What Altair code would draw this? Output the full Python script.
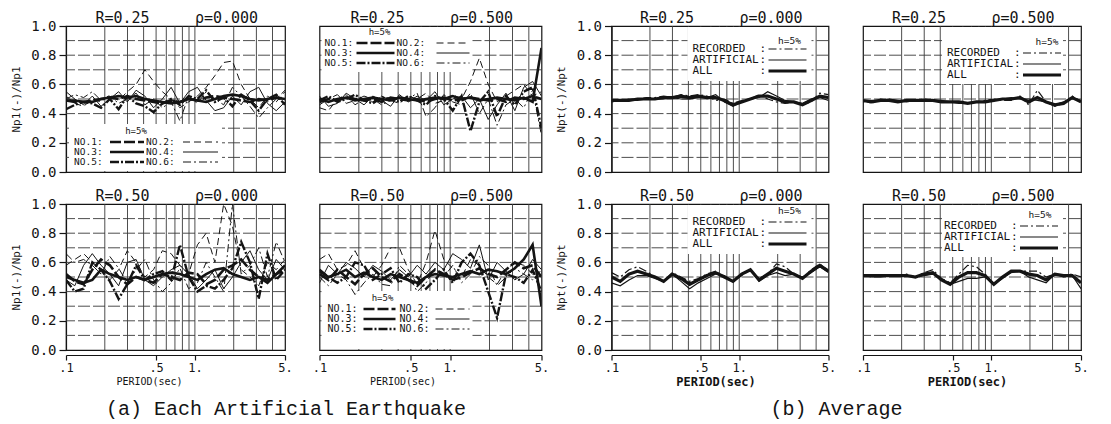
import altair as alt
import pandas as pd

# ---------------- data ----------------
PERIODS = [0.1, 0.117, 0.137, 0.16, 0.187, 0.219, 0.256, 0.299, 0.35, 0.409,
           0.478, 0.559, 0.654, 0.765, 0.894, 1.046, 1.223, 1.43, 1.672, 1.955,
           2.286, 2.673, 3.126, 3.655, 4.275, 5.0]

EQ_NAMES = ["NO.1", "NO.2", "NO.3", "NO.4", "NO.5", "NO.6"]
AVG_NAMES = ["RECORDED", "ARTIFICIAL", "ALL"]

EQ_R025_P000 = {
    "NO.1": [0.49, 0.48, 0.48, 0.49, 0.50, 0.51, 0.50, 0.52, 0.50, 0.49, 0.48, 0.47, 0.49,
             0.48, 0.50, 0.49, 0.51, 0.52, 0.51, 0.50, 0.49, 0.48, 0.50, 0.49, 0.51, 0.50],
    "NO.2": [0.52, 0.47, 0.45, 0.50, 0.48, 0.53, 0.49, 0.55, 0.60, 0.70, 0.62, 0.55, 0.50,
             0.44, 0.48, 0.52, 0.58, 0.66, 0.75, 0.76, 0.60, 0.50, 0.44, 0.52, 0.48, 0.55],
    "NO.3": [0.49, 0.49, 0.48, 0.48, 0.50, 0.51, 0.52, 0.51, 0.52, 0.50, 0.49, 0.48, 0.47,
             0.48, 0.50, 0.49, 0.48, 0.50, 0.52, 0.53, 0.52, 0.50, 0.49, 0.50, 0.51, 0.50],
    "NO.4": [0.55, 0.50, 0.46, 0.52, 0.45, 0.50, 0.55, 0.48, 0.56, 0.52, 0.44, 0.50, 0.58,
             0.47, 0.55, 0.58, 0.49, 0.42, 0.44, 0.52, 0.46, 0.55, 0.58, 0.47, 0.42, 0.48],
    "NO.5": [0.43, 0.46, 0.48, 0.47, 0.44, 0.50, 0.43, 0.52, 0.47, 0.45, 0.41, 0.47, 0.50,
             0.46, 0.52, 0.50, 0.56, 0.48, 0.51, 0.45, 0.53, 0.49, 0.42, 0.50, 0.53, 0.46],
    "NO.6": [0.50, 0.53, 0.51, 0.55, 0.49, 0.52, 0.47, 0.50, 0.54, 0.46, 0.50, 0.44, 0.48,
             0.35, 0.52, 0.47, 0.55, 0.50, 0.46, 0.58, 0.52, 0.45, 0.37, 0.44, 0.50, 0.56],
}
EQ_R025_P500 = {
    "NO.1": [0.48, 0.50, 0.49, 0.51, 0.50, 0.49, 0.50, 0.48, 0.51, 0.50, 0.49, 0.50, 0.48,
             0.50, 0.51, 0.49, 0.50, 0.51, 0.50, 0.49, 0.50, 0.48, 0.51, 0.50, 0.52, 0.50],
    "NO.2": [0.44, 0.42, 0.50, 0.53, 0.46, 0.50, 0.48, 0.52, 0.49, 0.47, 0.52, 0.50, 0.54,
             0.47, 0.49, 0.53, 0.50, 0.62, 0.78, 0.60, 0.48, 0.52, 0.56, 0.60, 0.52, 0.55],
    "NO.3": [0.50, 0.48, 0.50, 0.51, 0.49, 0.50, 0.51, 0.50, 0.49, 0.51, 0.50, 0.49, 0.50,
             0.51, 0.50, 0.52, 0.50, 0.51, 0.49, 0.50, 0.51, 0.50, 0.49, 0.51, 0.48, 0.85],
    "NO.4": [0.52, 0.45, 0.47, 0.54, 0.50, 0.46, 0.52, 0.49, 0.45, 0.53, 0.48, 0.52, 0.49,
             0.55, 0.46, 0.50, 0.52, 0.44, 0.50, 0.36, 0.46, 0.54, 0.42, 0.58, 0.62, 0.52],
    "NO.5": [0.49, 0.52, 0.48, 0.50, 0.53, 0.49, 0.47, 0.51, 0.50, 0.48, 0.52, 0.49, 0.46,
             0.52, 0.50, 0.42, 0.52, 0.28, 0.48, 0.55, 0.38, 0.52, 0.46, 0.55, 0.58, 0.30],
    "NO.6": [0.46, 0.50, 0.53, 0.47, 0.49, 0.52, 0.50, 0.46, 0.49, 0.52, 0.50, 0.54, 0.38,
             0.44, 0.53, 0.48, 0.46, 0.54, 0.40, 0.50, 0.32, 0.46, 0.50, 0.44, 0.56, 0.25],
}
EQ_R050_P000 = {
    "NO.1": [0.52, 0.47, 0.45, 0.55, 0.62, 0.58, 0.50, 0.45, 0.50, 0.48, 0.46, 0.52, 0.50,
             0.48, 0.53, 0.52, 0.45, 0.48, 0.55, 0.58, 0.62, 0.55, 0.50, 0.48, 0.52, 0.55],
    "NO.2": [0.58, 0.62, 0.66, 0.60, 0.55, 0.48, 0.55, 0.68, 0.60, 0.50, 0.55, 0.68, 0.66,
             0.58, 0.52, 0.72, 0.80, 0.60, 1.00, 0.85, 0.55, 0.50, 0.44, 0.60, 0.55, 0.62],
    "NO.3": [0.50, 0.48, 0.46, 0.48, 0.55, 0.52, 0.50, 0.48, 0.50, 0.48, 0.50, 0.52, 0.53,
             0.52, 0.50, 0.48, 0.52, 0.55, 0.56, 0.52, 0.50, 0.48, 0.50, 0.46, 0.52, 0.58],
    "NO.4": [0.48, 0.44, 0.58, 0.66, 0.58, 0.52, 0.44, 0.60, 0.62, 0.48, 0.44, 0.50, 0.55,
             0.58, 0.52, 0.42, 0.48, 0.55, 0.42, 0.50, 0.60, 0.68, 0.55, 0.48, 0.62, 0.55],
    "NO.5": [0.48, 0.40, 0.42, 0.60, 0.55, 0.47, 0.35, 0.45, 0.58, 0.48, 0.52, 0.54, 0.48,
             0.72, 0.50, 0.40, 0.44, 0.42, 0.48, 0.56, 0.74, 0.60, 0.35, 0.66, 0.48, 0.55],
    "NO.6": [0.66, 0.60, 0.62, 0.58, 0.52, 0.64, 0.56, 0.46, 0.55, 0.62, 0.48, 0.40, 0.46,
             0.56, 0.42, 0.46, 0.60, 0.50, 0.40, 1.00, 0.52, 0.58, 0.70, 0.50, 0.74, 0.60],
}
EQ_R050_P500 = {
    "NO.1": [0.52, 0.48, 0.55, 0.50, 0.45, 0.52, 0.56, 0.50, 0.47, 0.52, 0.48, 0.44, 0.50,
             0.55, 0.52, 0.48, 0.50, 0.53, 0.56, 0.52, 0.50, 0.55, 0.60, 0.56, 0.58, 0.50],
    "NO.2": [0.62, 0.66, 0.55, 0.58, 0.68, 0.56, 0.50, 0.58, 0.70, 0.70, 0.55, 0.45, 0.60,
             0.82, 0.62, 0.56, 0.50, 0.62, 0.58, 0.50, 0.45, 0.55, 0.60, 0.58, 0.52, 0.50],
    "NO.3": [0.54, 0.50, 0.52, 0.55, 0.50, 0.53, 0.50, 0.48, 0.52, 0.50, 0.48, 0.46, 0.50,
             0.52, 0.51, 0.50, 0.52, 0.54, 0.52, 0.55, 0.54, 0.52, 0.56, 0.62, 0.72, 0.30],
    "NO.4": [0.46, 0.58, 0.52, 0.60, 0.56, 0.50, 0.58, 0.54, 0.48, 0.55, 0.50, 0.58, 0.52,
             0.60, 0.55, 0.66, 0.62, 0.56, 0.72, 0.48, 0.60, 0.54, 0.48, 0.52, 0.62, 0.55],
    "NO.5": [0.55, 0.50, 0.46, 0.50, 0.60, 0.58, 0.48, 0.52, 0.56, 0.46, 0.52, 0.50, 0.42,
             0.48, 0.55, 0.46, 0.60, 0.66, 0.58, 0.40, 0.22, 0.52, 0.50, 0.46, 0.55, 0.40],
    "NO.6": [0.50, 0.44, 0.52, 0.48, 0.38, 0.46, 0.52, 0.45, 0.44, 0.58, 0.52, 0.40, 0.46,
             0.56, 0.50, 0.58, 0.46, 0.52, 0.64, 0.58, 0.44, 0.50, 0.56, 0.52, 0.48, 0.55],
}
AVG_R025_P000 = {
    "RECORDED":   [0.49, 0.49, 0.50, 0.50, 0.51, 0.51, 0.52, 0.51, 0.53, 0.52, 0.53, 0.52, 0.49,
                   0.50, 0.47, 0.49, 0.50, 0.53, 0.50, 0.48, 0.47, 0.48, 0.46, 0.48, 0.54, 0.53],
    "ARTIFICIAL": [0.48, 0.49, 0.49, 0.49, 0.50, 0.50, 0.50, 0.51, 0.50, 0.50, 0.51, 0.51, 0.53,
                   0.48, 0.45, 0.48, 0.50, 0.51, 0.55, 0.52, 0.49, 0.48, 0.47, 0.50, 0.51, 0.49],
    "ALL":        [0.49, 0.49, 0.49, 0.50, 0.50, 0.50, 0.51, 0.51, 0.52, 0.51, 0.52, 0.51, 0.51,
                   0.49, 0.46, 0.48, 0.50, 0.52, 0.52, 0.50, 0.48, 0.48, 0.46, 0.49, 0.52, 0.51],
}
AVG_R025_P500 = {
    "RECORDED":   [0.49, 0.47, 0.50, 0.49, 0.48, 0.49, 0.49, 0.50, 0.49, 0.48, 0.48, 0.48, 0.47,
                   0.48, 0.49, 0.50, 0.49, 0.49, 0.52, 0.46, 0.56, 0.48, 0.45, 0.47, 0.52, 0.48],
    "ARTIFICIAL": [0.48, 0.49, 0.49, 0.50, 0.49, 0.48, 0.49, 0.49, 0.49, 0.49, 0.48, 0.47, 0.47,
                   0.48, 0.48, 0.49, 0.50, 0.51, 0.50, 0.50, 0.49, 0.48, 0.46, 0.48, 0.51, 0.49],
    "ALL":        [0.49, 0.48, 0.49, 0.49, 0.48, 0.49, 0.49, 0.49, 0.49, 0.48, 0.48, 0.48, 0.47,
                   0.48, 0.48, 0.49, 0.50, 0.50, 0.51, 0.48, 0.51, 0.48, 0.46, 0.47, 0.51, 0.48],
}
AVG_R050_P000 = {
    "RECORDED":   [0.53, 0.50, 0.55, 0.57, 0.54, 0.50, 0.47, 0.53, 0.50, 0.47, 0.49, 0.52, 0.54,
                   0.50, 0.47, 0.51, 0.55, 0.49, 0.52, 0.59, 0.57, 0.52, 0.49, 0.55, 0.59, 0.54],
    "ARTIFICIAL": [0.46, 0.44, 0.48, 0.51, 0.51, 0.49, 0.47, 0.52, 0.47, 0.42, 0.46, 0.49, 0.52,
                   0.51, 0.47, 0.52, 0.55, 0.47, 0.51, 0.53, 0.51, 0.52, 0.50, 0.53, 0.57, 0.53],
    "ALL":        [0.50, 0.47, 0.52, 0.54, 0.52, 0.50, 0.47, 0.52, 0.49, 0.45, 0.48, 0.51, 0.53,
                   0.50, 0.47, 0.52, 0.55, 0.48, 0.52, 0.56, 0.54, 0.52, 0.49, 0.54, 0.58, 0.54],
}
AVG_R050_P500 = {
    "RECORDED":   [0.51, 0.51, 0.51, 0.51, 0.51, 0.52, 0.50, 0.53, 0.55, 0.49, 0.46, 0.52, 0.58,
                   0.57, 0.52, 0.45, 0.50, 0.54, 0.54, 0.54, 0.54, 0.50, 0.52, 0.51, 0.52, 0.50],
    "ARTIFICIAL": [0.51, 0.50, 0.50, 0.51, 0.51, 0.51, 0.50, 0.51, 0.52, 0.48, 0.45, 0.47, 0.49,
                   0.49, 0.50, 0.45, 0.49, 0.53, 0.54, 0.50, 0.48, 0.46, 0.52, 0.50, 0.51, 0.42],
    "ALL":        [0.51, 0.51, 0.51, 0.51, 0.51, 0.51, 0.50, 0.52, 0.53, 0.48, 0.45, 0.50, 0.53,
                   0.53, 0.51, 0.45, 0.50, 0.54, 0.54, 0.52, 0.51, 0.48, 0.52, 0.51, 0.51, 0.46],
}

X_TICKS = [0.1, 0.5, 1.0, 5.0]
X_TICK_LABELS = [".1", ".5", "1.", "5."]
Y_TICKS = [0.0, 0.2, 0.4, 0.6, 0.8, 1.0]
GRID_X = [0.2, 0.3, 0.4, 0.5, 0.6, 0.7, 0.8, 0.9, 1.0, 2.0, 3.0, 4.0]
GRID_Y = [0.1, 0.2, 0.3, 0.4, 0.5, 0.6, 0.7, 0.8, 0.9]

# ---------------- styling ----------------
MONO = "DejaVu Sans Mono"
CAPTION_FONT = "Liberation Mono"
INK = "#141414"
GRID_INK = "#3a3a3a"
STYLE = {
    "NO.1": {"strokeWidth": 2.6, "strokeDash": [11, 3]},
    "NO.2": {"strokeWidth": 1.0, "strokeDash": [7, 4]},
    "NO.3": {"strokeWidth": 2.6},
    "NO.4": {"strokeWidth": 1.0},
    "NO.5": {"strokeWidth": 2.4, "strokeDash": [9, 2, 2, 2]},
    "NO.6": {"strokeWidth": 1.0, "strokeDash": [8, 3, 2, 3]},
    "RECORDED": {"strokeWidth": 1.2, "strokeDash": [8, 3, 2, 3]},
    "ARTIFICIAL": {"strokeWidth": 1.2},
    "ALL": {"strokeWidth": 3.2},
}
DUMMY = alt.Data(values=[{"k": 0}])

x_label_expr = "''"
for v, l in zip(reversed(X_TICKS), reversed(X_TICK_LABELS)):
    x_label_expr = f"abs(datum.value - {v}) < 1e-6 ? '{l}' : ({x_label_expr})"

# legend layouts (pixel offsets inside each panel)
LEG_A1 = dict(h=(70, 105), rows=[116, 126, 136], tx1=8, s1=(44, 78), tx2=80, s2=(117, 152), fs=9.5, box=(3, 156, 98, 145))
LEG_A2 = dict(h=(60, 6), rows=[17, 27, 37], tx1=5, s1=(37, 75), tx2=77, s2=(117, 150), fs=9.5, box=(2, 153, 1, 46))
LEG_A4 = dict(h=(63, 94), rows=[105, 115, 125], tx1=8, s1=(44, 76), tx2=80, s2=(116, 150), fs=10, box=(2, 153, 87, 145))
LEG_B1 = dict(h=(178, 15), rows=[23, 34, 45], tx=81, box=(76, 200, 1, 55))
LEG_B2 = dict(h=(184, 16), rows=[27, 38, 49], tx=84, box=(79, 200, 1, 58))
LEG_B3 = dict(h=(178, 7), rows=[18, 29, 40], tx=81, box=(76, 200, 1, 50))
LEG_B4 = dict(h=(177, 11), rows=[22, 33, 44], tx=81, box=(79, 200, 1, 53))
AVG_FS = 11


def text_layer(txt, x, y, size, align="left", font=MONO, weight="normal"):
    return alt.Chart(DUMMY).mark_text(
        text=txt, align=align, baseline="middle", font=font, fontSize=size,
        fontWeight=weight, color=INK
    ).encode(x=alt.value(x), y=alt.value(y))


def sample_layer(name, x1, x2, y):
    return alt.Chart(DUMMY).mark_rule(color=INK, **STYLE[name]).encode(
        x=alt.value(x1), x2=alt.value(x2), y=alt.value(y))


def box_layer(x1, x2, y1, y2):
    return alt.Chart(DUMMY).mark_rect(fill="white").encode(
        x=alt.value(x1), x2=alt.value(x2), y=alt.value(y1), y2=alt.value(y2))


def panel(series, names, w, h, r_txt, p_txt, y_title=None, x_title=None,
          x_title_x=83, x_title_size=10, x_title_weight="normal",
          legend=None, caption=None):
    xs = alt.Scale(type="log", domain=[0.1, 5.0], nice=False)
    ys = alt.Scale(domain=[0.0, 1.0], nice=False, zero=False)
    if x_title is not None:
        xax = alt.Axis(values=X_TICKS, labelExpr=x_label_expr, grid=False, offset=5,
                       domain=True, domainColor=INK, domainWidth=1.2, ticks=True,
                       tickColor=INK, tickSize=5, tickWidth=1.2, labelFont=MONO,
                       labelFontSize=12, labelColor=INK, labelPadding=2, labelFlush=False,
                       labelOverlap=False, title=x_title, titleFont=MONO,
                       titleFontSize=x_title_size, titleFontWeight=x_title_weight,
                       titleColor=INK, titleX=x_title_x, titleY=26, titleAlign="center",
                       titleBaseline="middle")
    else:
        xax = None
    if y_title is not None:
        yax = alt.Axis(values=Y_TICKS, format=".1f", grid=False, domain=True,
                       domainColor=INK, domainWidth=1.2, ticks=True, tickColor=INK,
                       tickSize=7, tickWidth=1.2, labelFont=MONO, labelFontSize=14,
                       labelColor=INK, labelPadding=3, labelFlush=False,
                       labelOverlap=False, title=y_title, titleFont=MONO,
                       titleFontSize=11, titleFontWeight="normal", titleColor=INK,
                       titleX=-50, titleY=h / 2, titleAngle=270, titleAlign="center",
                       titleBaseline="middle")
    else:
        yax = None

    layers = []
    layers.append(alt.Chart(alt.Data(values=[{"v": v} for v in GRID_X])).mark_rule(
        color=GRID_INK, strokeWidth=0.9).encode(
        x=alt.X("v:Q", scale=xs, axis=xax)))
    layers.append(alt.Chart(alt.Data(values=[{"v": v} for v in GRID_Y])).mark_rule(
        color=GRID_INK, strokeWidth=0.9, strokeDash=[12, 3]).encode(
        y=alt.Y("v:Q", scale=ys, axis=yax)))
    if legend is not None:
        b = legend[1]["box"]
        layers.append(box_layer(*b))
    for n in names:
        df = pd.DataFrame({"period": PERIODS, "value": series[n]})
        layers.append(alt.Chart(df).mark_line(color=INK, clip=True, strokeJoin="miter",
                                              **STYLE[n]).encode(
            x=alt.X("period:Q", scale=xs, axis=xax),
            y=alt.Y("value:Q", scale=ys, axis=yax)))
    if legend is not None:
        kind, L = legend
        if kind == "eq":
            layers.append(text_layer("h=5%", L["h"][0], L["h"][1], 9, align="center"))
            for i, r in enumerate(L["rows"]):
                n1, n2 = EQ_NAMES[2 * i], EQ_NAMES[2 * i + 1]
                layers.append(text_layer(n1 + ":", L["tx1"], r, L["fs"]))
                layers.append(sample_layer(n1, L["s1"][0], L["s1"][1], r))
                layers.append(text_layer(n2 + ":", L["tx2"], r, L["fs"]))
                layers.append(sample_layer(n2, L["s2"][0], L["s2"][1], r))
        else:
            layers.append(text_layer("h=5%", L["h"][0], L["h"][1], 9.5, align="center"))
            for n, r in zip(AVG_NAMES, L["rows"]):
                layers.append(text_layer(n, L["tx"], r, AVG_FS))
                layers.append(text_layer(":", L["tx"] + 67, r, AVG_FS))
                layers.append(sample_layer(n, L["tx"] + 76, L["tx"] + 114, r))
    layers.append(text_layer(r_txt, w / 2 - 53, -8, 15, align="center"))
    layers.append(text_layer(p_txt, w / 2 + 51, -8, 15, align="center"))
    if caption is not None:
        layers.append(text_layer(caption[0], caption[1], 205, 20, align="center",
                                 font=CAPTION_FONT))
    return alt.layer(*layers).properties(width=w, height=h)


def spacer(h):
    return alt.Chart(DUMMY).mark_point(opacity=0).encode(
        x=alt.value(0), y=alt.value(0)
    ).properties(width=1, height=h,
                 view=alt.ViewBackground(stroke="transparent", fill="transparent"))


H = 146
A1 = panel(EQ_R025_P000, EQ_NAMES, 219, H, "R=0.25", "ρ=0.000", y_title="Np1(-)/Np1",
           legend=("eq", LEG_A1))
A2 = panel(EQ_R025_P500, EQ_NAMES, 222, H, "R=0.25", "ρ=0.500", legend=("eq", LEG_A2))
A3 = panel(EQ_R050_P000, EQ_NAMES, 219, H, "R=0.50", "ρ=0.000", y_title="Np1(-)/Np1",
           x_title="PERIOD(sec)", caption=("(a) Each Artificial Earthquake", 220))
A4 = panel(EQ_R050_P500, EQ_NAMES, 222, H, "R=0.50", "ρ=0.500", x_title="PERIOD(sec)",
           legend=("eq", LEG_A4))
B1 = panel(AVG_R025_P000, AVG_NAMES, 217, H, "R=0.25", "ρ=0.000", y_title="Npt(-)/Npt",
           legend=("avg", LEG_B1))
B2 = panel(AVG_R025_P500, AVG_NAMES, 218, H, "R=0.25", "ρ=0.500", legend=("avg", LEG_B2))
B3 = panel(AVG_R050_P000, AVG_NAMES, 217, H, "R=0.50", "ρ=0.000", y_title="Npt(-)/Npt",
           x_title="PERIOD(sec)", x_title_x=104, x_title_size=12, x_title_weight="bold",
           legend=("avg", LEG_B3), caption=("(b) Average", 225))
B4 = panel(AVG_R050_P500, AVG_NAMES, 218, H, "R=0.50", "ρ=0.500", x_title="PERIOD(sec)",
           x_title_x=104, x_title_size=12, x_title_weight="bold", legend=("avg", LEG_B4))

chart = alt.concat(
    A1, A2, spacer(H), B1, B2,
    A3, A4, spacer(H), B3, B4,
    columns=5, spacing={"row": 32, "column": 34.5}, bounds="flush",
).properties(
    padding={"left": 9, "top": 10, "right": 5, "bottom": 5},
    background="white",
).configure_view(stroke=INK, strokeWidth=1.2)

chart.save("out.html", embed_options={"renderer": "svg", "actions": False})
